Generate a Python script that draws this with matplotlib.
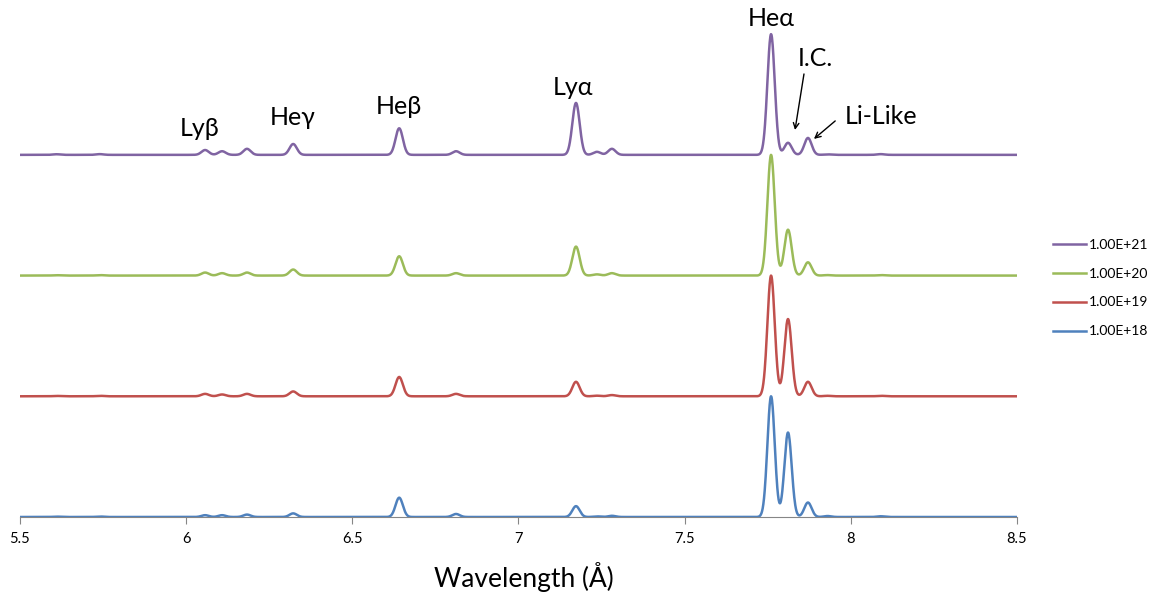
import matplotlib
matplotlib.use('Agg')
import matplotlib.pyplot as plt
import numpy as np

plt.rcParams['font.family'] = ['Lato', 'DejaVu Sans']

# line list (Angstrom)
line_centers = [5.61, 5.74, 6.057, 6.108, 6.183, 6.322, 6.641, 6.812,
                7.173, 7.236, 7.281, 7.760, 7.811, 7.871, 7.93, 8.09]

# relative peak heights per density (Heα = 1)
amp_1e21 = [0.005, 0.006, 0.04, 0.03, 0.05, 0.09, 0.22, 0.03,
            0.43, 0.025, 0.05, 1.0, 0.10, 0.14, 0.004, 0.006]
amp_1e20 = [0.003, 0.004, 0.025, 0.02, 0.025, 0.05, 0.16, 0.02,
            0.24, 0.01, 0.02, 1.0, 0.38, 0.11, 0.004, 0.004]
amp_1e19 = [0.003, 0.004, 0.02, 0.015, 0.02, 0.04, 0.16, 0.02,
            0.12, 0.005, 0.01, 1.0, 0.64, 0.12, 0.004, 0.004]
amp_1e18 = [0.003, 0.004, 0.015, 0.015, 0.02, 0.03, 0.16, 0.025,
            0.09, 0.005, 0.01, 1.0, 0.70, 0.12, 0.008, 0.006]

labels = ['1.00E+21', '1.00E+20', '1.00E+19', '1.00E+18']
colors = ['#8064A2', '#9BBB59', '#C0504D', '#4F81BD']
offsets = [3, 2, 1, 0]
line_width = 0.011  # gaussian sigma of each line

wl = np.linspace(5.5, 8.5, 3000)


def spectrum(amps):
    y = np.zeros_like(wl)
    for c, a in zip(line_centers, amps):
        y += a * np.exp(-0.5 * ((wl - c) / line_width) ** 2)
    return y


fig = plt.figure(figsize=(11.58, 5.92), dpi=100)
ax = fig.add_axes([20 / 1158, 75 / 592, 997 / 1158, 507 / 592])

for amps, lab, col, off in zip([amp_1e21, amp_1e20, amp_1e19, amp_1e18],
                               labels, colors, offsets):
    ax.plot(wl, spectrum(amps) + off, color=col, lw=1.8, label=lab)

ax.set_xlim(5.5, 8.5)
ax.set_ylim(0, 4.2)
ax.set_xticks([5.5, 6, 6.5, 7, 7.5, 8, 8.5])
ax.set_xticklabels(['5.5', '6', '6.5', '7', '7.5', '8', '8.5'])
ax.tick_params(axis='x', direction='out', length=5, color='#868686',
               labelsize=10.5, pad=6)
ax.set_yticks([])
for s in ['left', 'top', 'right']:
    ax.spines[s].set_visible(False)
ax.spines['bottom'].set_color('#868686')
ax.spines['bottom'].set_zorder(0)
ax.set_xlabel('Wavelength (Å)', fontsize=19)
ax.xaxis.set_label_coords((524 - 20) / 997, -45 / 507)

# peak labels
fs = 18
ax.text(6.04, 3.22, 'Lyβ', fontsize=fs, ha='center', va='center')
ax.text(6.32, 3.31, 'Heγ', fontsize=fs, ha='center', va='center')
ax.text(6.64, 3.40, 'Heβ', fontsize=fs, ha='center', va='center')
ax.text(7.165, 3.56, 'Lyα', fontsize=fs, ha='center', va='center')
ax.text(7.76, 4.13, 'Heα', fontsize=fs, ha='center', va='center')
ax.text(7.893, 3.80, 'I.C.', fontsize=fs, ha='center', va='center')
ax.text(8.09, 3.32, 'Li-Like', fontsize=fs, ha='center', va='center')
ax.annotate('', xy=(7.832, 3.206), xytext=(7.859, 3.67),
            arrowprops=dict(arrowstyle='->', color='black', lw=1,
                            shrinkA=0, shrinkB=0))
ax.annotate('', xy=(7.889, 3.132), xytext=(7.953, 3.281),
            arrowprops=dict(arrowstyle='->', color='black', lw=1,
                            shrinkA=0, shrinkB=0))

fig.legend(loc='center left', bbox_to_anchor=(1046 / 1158, 1 - 288 / 592),
           frameon=False, fontsize=10, borderpad=0, handlelength=2.4,
           handletextpad=0.2, labelspacing=1.22)

plt.savefig('out.png', dpi=100)
